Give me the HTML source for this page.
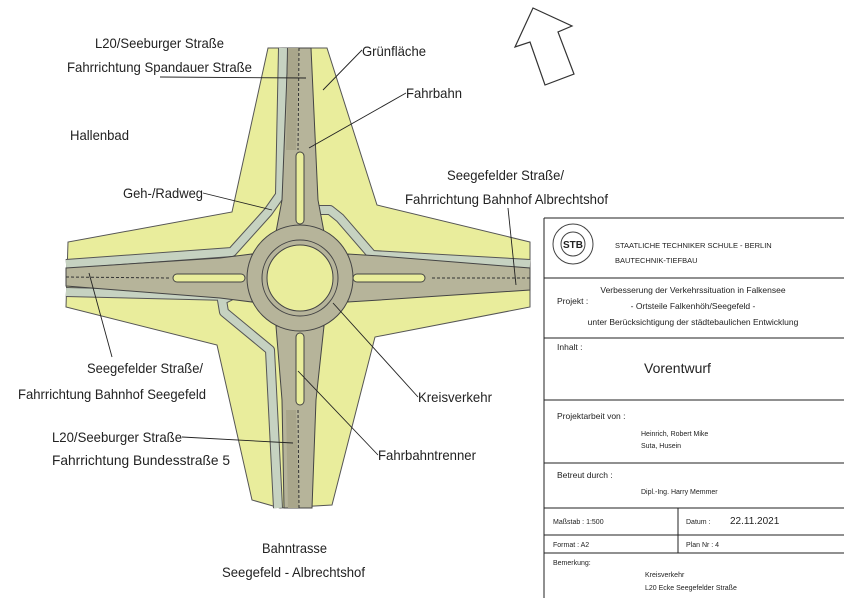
<!DOCTYPE html>
<html><head><meta charset="utf-8"><style>
html,body{margin:0;padding:0;background:#fff;}
svg{display:block;}
text{font-family:"Liberation Sans",sans-serif;fill:#222;}
</style></head><body>
<svg width="850" height="600" viewBox="0 0 850 600" xmlns="http://www.w3.org/2000/svg">
<!-- north arrow -->
<polygon points="533,8 572,26 558,32 574,74 545,85 530,42 515,47" fill="#fff" stroke="#333" stroke-width="1.2"/>

<!-- green area -->
<polygon points="268,48 327,48 377,205 530,242 530,307 375,337 332,505 280,508 252,500 217,345 66,307 68,242 232,212" fill="#e9ed9c" stroke="#555" stroke-width="1"/>

<!-- bike paths -->
<g fill="none" stroke="#555" stroke-width="10" stroke-linejoin="round" stroke-linecap="butt">
<polyline points="283,48 280,195 268,212 232,252 66,264"/>
<polyline points="300,210 330,210 340,218 372,255 530,264"/>
<polyline points="66,292 230,296 222,300 224,312 270,350 278,508"/>
</g>
<g fill="none" stroke="#c6d2c1" stroke-width="8" stroke-linejoin="round">
<polyline points="283,48 280,195 268,212 232,252 66,264"/>
<polyline points="300,210 330,210 340,218 372,255 530,264"/>
<polyline points="66,292 230,296 222,300 224,312 270,350 278,508"/>
</g>

<!-- roads -->
<g fill="#b6b49a" stroke="#444" stroke-width="1">
<polygon points="288,48 311,48 318,200 324,232 276,232 282,200"/>
<polygon points="284,508 312,508 316,400 324,326 276,326 282,400"/>
<polygon points="66,268 66,286 220,298 252,302 252,254 220,258"/>
<polygon points="530,268 530,290 380,300 348,302 348,254 380,256"/>
</g>
<polygon points="288,48 299,48 296,150 286,150" fill="#a9a68b"/>
<polygon points="288,508 299,508 296,410 286,410" fill="#a9a68b"/>
<line x1="299" y1="48" x2="298" y2="150" stroke="#333" stroke-dasharray="3,2"/>
<line x1="299" y1="508" x2="298" y2="410" stroke="#333" stroke-dasharray="3,2"/>
<line x1="66" y1="277" x2="170" y2="278" stroke="#333" stroke-dasharray="3,2"/>
<line x1="530" y1="278" x2="430" y2="278" stroke="#333" stroke-dasharray="3,2"/>

<!-- roundabout -->
<circle cx="300" cy="278" r="53" fill="#b6b49a" stroke="#444" stroke-width="1"/>
<circle cx="300" cy="278" r="38" fill="none" stroke="#444" stroke-width="1"/>
<circle cx="300" cy="278" r="33" fill="#e9ed9c" stroke="#444" stroke-width="1"/>

<!-- splitter islands -->
<g fill="#e9ed9c" stroke="#444" stroke-width="1">
<rect x="296" y="152" width="8" height="72" rx="4"/>
<rect x="296" y="333" width="8" height="72" rx="4"/>
<rect x="173" y="274" width="72" height="8" rx="4"/>
<rect x="353" y="274" width="72" height="8" rx="4"/>
</g>

<!-- leaders -->
<g stroke="#222" stroke-width="0.9" fill="none">
<line x1="160" y1="77" x2="306" y2="78"/>
<line x1="362" y1="50" x2="323" y2="90"/>
<line x1="406" y1="93" x2="309" y2="148"/>
<line x1="203" y1="193" x2="272" y2="210"/>
<line x1="508" y1="208" x2="516" y2="285"/>
<line x1="112" y1="357" x2="89" y2="273"/>
<line x1="182" y1="437" x2="293" y2="443"/>
<line x1="418" y1="397" x2="333" y2="303"/>
<line x1="378" y1="455" x2="298" y2="371"/>
</g>

<!-- labels -->
<g font-size="14">
<text x="95" y="48" textLength="129" lengthAdjust="spacingAndGlyphs">L20/Seeburger Straße</text>
<text x="67" y="72" textLength="185" lengthAdjust="spacingAndGlyphs">Fahrrichtung Spandauer Straße</text>
<text x="362" y="56" textLength="64" lengthAdjust="spacingAndGlyphs">Grünfläche</text>
<text x="406" y="98" textLength="56" lengthAdjust="spacingAndGlyphs">Fahrbahn</text>
<text x="70" y="140" textLength="59" lengthAdjust="spacingAndGlyphs">Hallenbad</text>
<text x="123" y="198" textLength="80" lengthAdjust="spacingAndGlyphs">Geh-/Radweg</text>
<text x="447" y="180" textLength="117" lengthAdjust="spacingAndGlyphs">Seegefelder Straße/</text>
<text x="405" y="204" textLength="203" lengthAdjust="spacingAndGlyphs">Fahrrichtung Bahnhof Albrechtshof</text>
<text x="87" y="373" textLength="116" lengthAdjust="spacingAndGlyphs">Seegefelder Straße/</text>
<text x="18" y="399" textLength="188" lengthAdjust="spacingAndGlyphs">Fahrrichtung Bahnhof Seegefeld</text>
<text x="52" y="442" textLength="130" lengthAdjust="spacingAndGlyphs">L20/Seeburger Straße</text>
<text x="52" y="465" textLength="178" lengthAdjust="spacingAndGlyphs">Fahrrichtung Bundesstraße 5</text>
<text x="418" y="402" textLength="74" lengthAdjust="spacingAndGlyphs">Kreisverkehr</text>
<text x="378" y="460" textLength="98" lengthAdjust="spacingAndGlyphs">Fahrbahntrenner</text>
<text x="262" y="553" textLength="65" lengthAdjust="spacingAndGlyphs">Bahntrasse</text>
<text x="222" y="577" textLength="143" lengthAdjust="spacingAndGlyphs">Seegefeld - Albrechtshof</text>
</g>

<!-- title block -->
<rect x="544" y="218" width="300" height="382" fill="#fff"/>
<g stroke="#222" stroke-width="1">
<line x1="544" y1="218" x2="844" y2="218"/>
<line x1="544" y1="218" x2="544" y2="598"/>
<line x1="544" y1="278" x2="844" y2="278"/>
<line x1="544" y1="338" x2="844" y2="338"/>
<line x1="544" y1="400" x2="844" y2="400"/>
<line x1="544" y1="463" x2="844" y2="463"/>
<line x1="544" y1="508" x2="844" y2="508"/>
<line x1="544" y1="535" x2="844" y2="535"/>
<line x1="544" y1="553" x2="844" y2="553"/>
<line x1="678" y1="508" x2="678" y2="553"/>
</g>
<circle cx="573" cy="244" r="20" fill="#fff" stroke="#444" stroke-width="1"/>
<circle cx="573" cy="244" r="12" fill="#fff" stroke="#444" stroke-width="1"/>
<text x="573" y="248" font-size="10" font-weight="bold" text-anchor="middle">STB</text>
<g font-size="7.5">
<text x="615" y="248">STAATLICHE TECHNIKER SCHULE  - BERLIN</text>
<text x="615" y="263">BAUTECHNIK-TIEFBAU</text>
</g>
<g font-size="8.5" text-anchor="middle">
<text x="693" y="293">Verbesserung der Verkehrssituation in Falkensee</text>
<text x="693" y="309">- Ortsteile Falkenhöh/Seegefeld -</text>
<text x="693" y="325">unter Berücksichtigung der städtebaulichen Entwicklung</text>
</g>
<g font-size="8.5">
<text x="557" y="304">Projekt :</text>
<text x="557" y="350">Inhalt :</text>
<text x="557" y="419">Projektarbeit von :</text>
<text x="557" y="478">Betreut durch :</text>
</g>
<text x="644" y="373" font-size="14">Vorentwurf</text>
<g font-size="7">
<text x="641" y="436">Heinrich, Robert Mike</text>
<text x="641" y="448">Suta, Husein</text>
<text x="641" y="494">Dipl.-Ing. Harry Memmer</text>
<text x="553" y="524">Maßstab :  1:500</text>
<text x="686" y="524">Datum :</text>
<text x="553" y="547">Format : A2</text>
<text x="686" y="547">Plan Nr : 4</text>
<text x="553" y="565">Bemerkung:</text>
<text x="645" y="577">Kreisverkehr</text>
<text x="645" y="590">L20 Ecke Seegefelder Straße</text>
</g>
<text x="730" y="524" font-size="10">22.11.2021</text>
</svg>
</body></html>
